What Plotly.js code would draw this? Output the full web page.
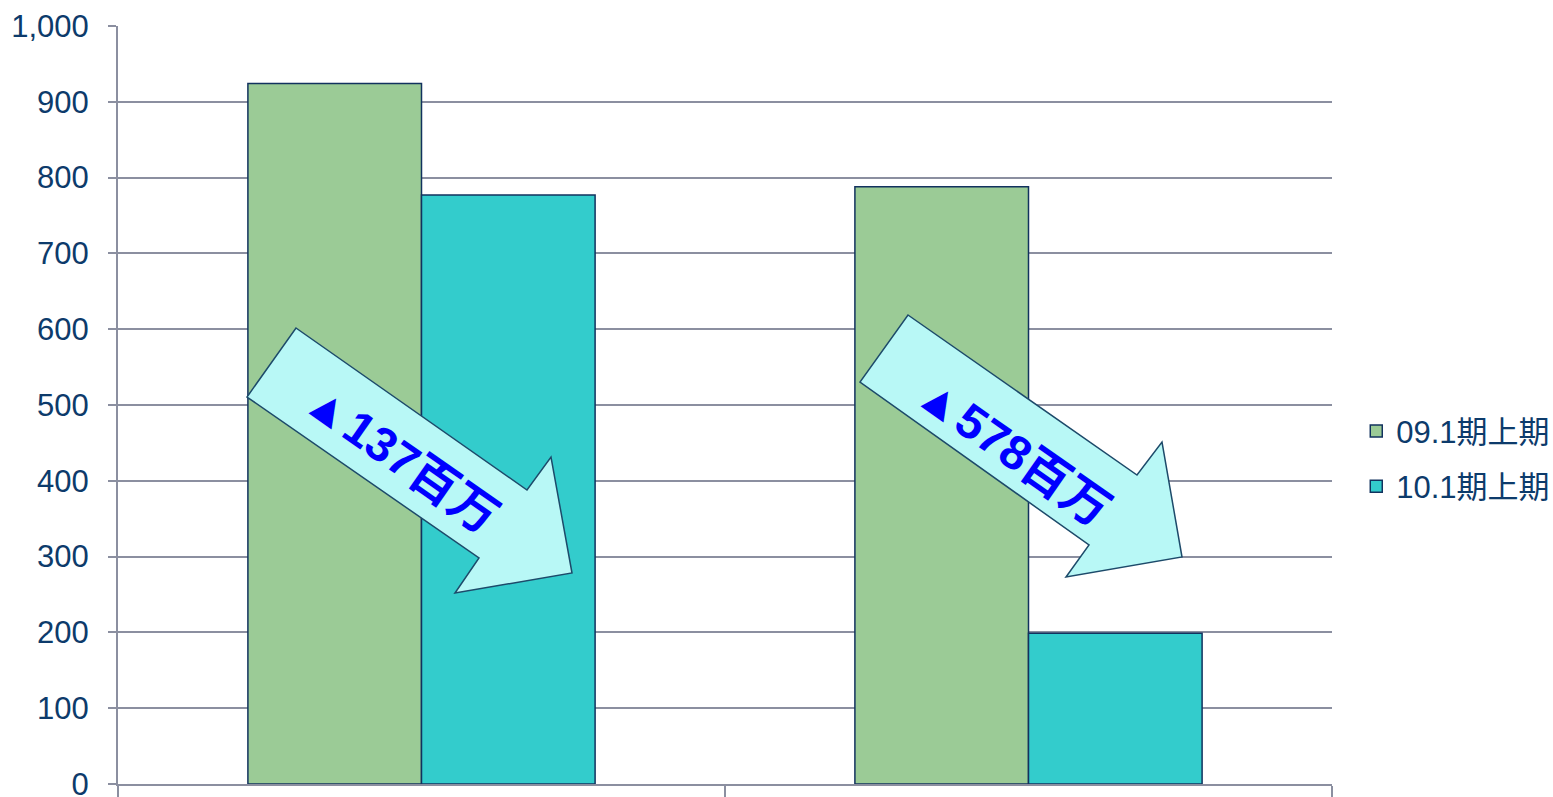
<!DOCTYPE html>
<html>
<head>
<meta charset="utf-8">
<script src="https://cdn.plot.ly/plotly-3.0.1.min.js"></script>
<style>html,body{margin:0;padding:0;background:#fff;}#chart{width:1553px;height:797px;}</style>
</head>
<body>
<div id="chart"></div>
<script>
// Data
const categories = ["区分A", "区分B"];
const seriesNames = ["09.1期上期", "10.1期上期"];
const values0901 = [924, 788];
const values1001 = [777, 199];
const arrowLabels = ["▲137百万", "▲578百万"];

// Layout geometry (pixels)
const W = 1553, H = 797;
const M = {l: 118, r: 221, t: 26, b: 13, autoexpand: false};
const PW = W - M.l - M.r, PH = H - M.t - M.b;
function px(x) { return (x - M.l) / PW; }
function py(y) { return (H - M.b - y) / PH; }
function pathFrom(pts) {
  return 'M' + pts.map(p => px(p[0]).toFixed(5) + ',' + py(p[1]).toFixed(5)).join(' L') + ' Z';
}

const arrow1 = [[296,328],[527,490],[551,457],[572,573],[455,593],[479,558],[247,397]];
const arrow2 = [[908,315],[1137,475],[1162,442],[1182,557],[1066,577],[1089,545],[860,382]];

const gridCol = '#8b8fa0';
const textCol = '#0d3b6b';
const fontFam = 'Liberation Sans, Arial, Noto Sans CJK JP, sans-serif';
const arrowFont = {size: 48, color: '#0000ff', family: 'Liberation Sans, Noto Sans CJK JP', weight: 'bold'};

const traces = [
  {type: 'bar', name: seriesNames[0], x: categories, y: values0901,
   marker: {color: '#9bcb96', line: {color: '#12325e', width: 1.5}}, legendgroup: 'a'},
  {type: 'bar', name: seriesNames[1], x: categories, y: values1001,
   marker: {color: '#33cccc', line: {color: '#12325e', width: 1.5}}, legendgroup: 'b'}
];

const layout = {
  width: W, height: H,
  margin: M,
  paper_bgcolor: '#fff', plot_bgcolor: '#fff',
  barmode: 'group', bargap: 0.428, bargroupgap: 0,
  font: {family: fontFam, color: textCol},
  xaxis: {
    type: 'category', showticklabels: false, tickson: 'boundaries',
    ticks: 'outside', ticklen: 12, tickwidth: 2, tickcolor: gridCol,
    showline: true, linecolor: gridCol, linewidth: 2, showgrid: false, zeroline: false,
    automargin: false
  },
  yaxis: {
    range: [0, 1000], dtick: 100, tickformat: ',d',
    ticks: 'outside', ticklen: 8, tickwidth: 2, tickcolor: gridCol,
    showline: true, linecolor: gridCol, linewidth: 2,
    showgrid: true, gridcolor: gridCol, gridwidth: 2, zeroline: false,
    tickfont: {size: 31, color: textCol, family: fontFam},
    ticklabelstandoff: 13, ticklabeloverflow: 'allow', automargin: false
  },
  legend: {
    x: 1.02, y: 0.429, xanchor: 'left', yanchor: 'middle',
    font: {size: 31, color: textCol, family: fontFam},
    tracegroupgap: 12, itemwidth: 30
  },
  shapes: [
    {type: 'path', xref: 'paper', yref: 'paper', path: pathFrom(arrow1),
     fillcolor: '#b8f8f6', line: {color: '#1d4a6a', width: 1.5}},
    {type: 'path', xref: 'paper', yref: 'paper', path: pathFrom(arrow2),
     fillcolor: '#b8f8f6', line: {color: '#1d4a6a', width: 1.5}}
  ],
  annotations: [
    {xref: 'paper', yref: 'paper', x: px(402), y: py(458), xanchor: 'center', yanchor: 'middle',
     text: arrowLabels[0], showarrow: false, textangle: 35, font: arrowFont},
    {xref: 'paper', yref: 'paper', x: px(1014), y: py(451), xanchor: 'center', yanchor: 'middle',
     text: arrowLabels[1], showarrow: false, textangle: 35, font: arrowFont}
  ]
};

Plotly.newPlot('chart', traces, layout, {displayModeBar: false, staticPlot: true});
</script>
</body>
</html>
